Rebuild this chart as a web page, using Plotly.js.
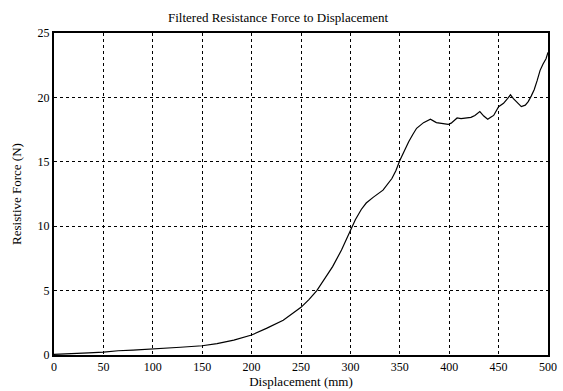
<!DOCTYPE html>
<html>
<head>
<meta charset="utf-8">
<script src="https://cdn.plot.ly/plotly-3.0.1.min.js"></script>
<style>html,body{margin:0;padding:0;background:#fff;}#chart{width:563px;height:391px;}</style>
</head>
<body>
<div id="chart"></div>
<script>
var displacement = [0, 10, 20, 35, 50, 65, 80, 100, 115, 128, 150, 165, 182, 200, 215, 232, 250, 258, 266, 274, 282, 291, 299, 305, 311, 316, 323, 333, 342, 346, 350, 354, 359, 363, 367, 374, 381, 387, 393, 399, 402, 405, 408, 412, 416, 422, 426, 431, 435, 439, 442, 445, 450, 455, 459, 462, 465, 468, 473, 477, 480, 483, 486, 489, 492, 495, 498, 500];
var force =        [0.05, 0.1, 0.13, 0.17, 0.22, 0.33, 0.38, 0.45, 0.52, 0.6, 0.72, 0.88, 1.16, 1.55, 2.07, 2.7, 3.7, 4.3, 5.0, 5.9, 6.86, 8.15, 9.57, 10.5, 11.3, 11.8, 12.24, 12.8, 13.7, 14.3, 15.1, 15.8, 16.56, 17.1, 17.6, 18.04, 18.3, 18.04, 17.95, 17.9, 18.0, 18.2, 18.4, 18.35, 18.37, 18.45, 18.6, 18.9, 18.55, 18.3, 18.45, 18.6, 19.28, 19.54, 19.9, 20.2, 19.9, 19.67, 19.28, 19.4, 19.67, 20.1, 20.6, 21.3, 22.1, 22.6, 23.0, 23.5];

var xTicks = [0, 50, 100, 150, 200, 250, 300, 350, 400, 450, 500];
var yTicks = [0, 5, 10, 15, 20, 25];

var serif = "Liberation Serif, Times New Roman, serif";

var trace = {
  x: displacement,
  y: force,
  type: "scatter",
  mode: "lines",
  line: {color: "#000", width: 1.2},
  hoverinfo: "skip"
};

var layout = {
  width: 563,
  height: 391,
  margin: {l: 54, r: 15, t: 33, b: 36},
  paper_bgcolor: "#fff",
  plot_bgcolor: "#fff",
  showlegend: false,
  title: {
    text: "Filtered Resistance Force to Displacement",
    font: {family: serif, size: 13, color: "#000"},
    x: 0.494, xanchor: "center",
    y: 0.955, yanchor: "middle"
  },
  xaxis: {
    range: [0, 500],
    tickvals: xTicks,
    ticktext: xTicks.map(String),
    showgrid: true,
    gridcolor: "#000",
    gridwidth: 1,
    griddash: "3px,3px",
    zeroline: false,
    showline: true,
    linecolor: "#000",
    linewidth: 2,
    mirror: true,
    ticks: "",
    tickfont: {family: serif, size: 12, color: "#000"},
    title: {text: "Displacement (mm)", font: {family: serif, size: 13, color: "#000"}, standoff: 3}
  },
  yaxis: {
    range: [0, 25],
    tickvals: yTicks,
    ticktext: yTicks.map(String),
    showgrid: true,
    gridcolor: "#000",
    gridwidth: 1,
    griddash: "3px,3px",
    zeroline: false,
    showline: true,
    linecolor: "#000",
    linewidth: 2,
    mirror: true,
    ticks: "",
    tickfont: {family: serif, size: 12, color: "#000"},
    title: {text: "Resistive Force (N)", font: {family: serif, size: 13, color: "#000"}, standoff: 13}
  }
};

Plotly.newPlot("chart", [trace], layout, {staticPlot: true, displayModeBar: false});
</script>
</body>
</html>
